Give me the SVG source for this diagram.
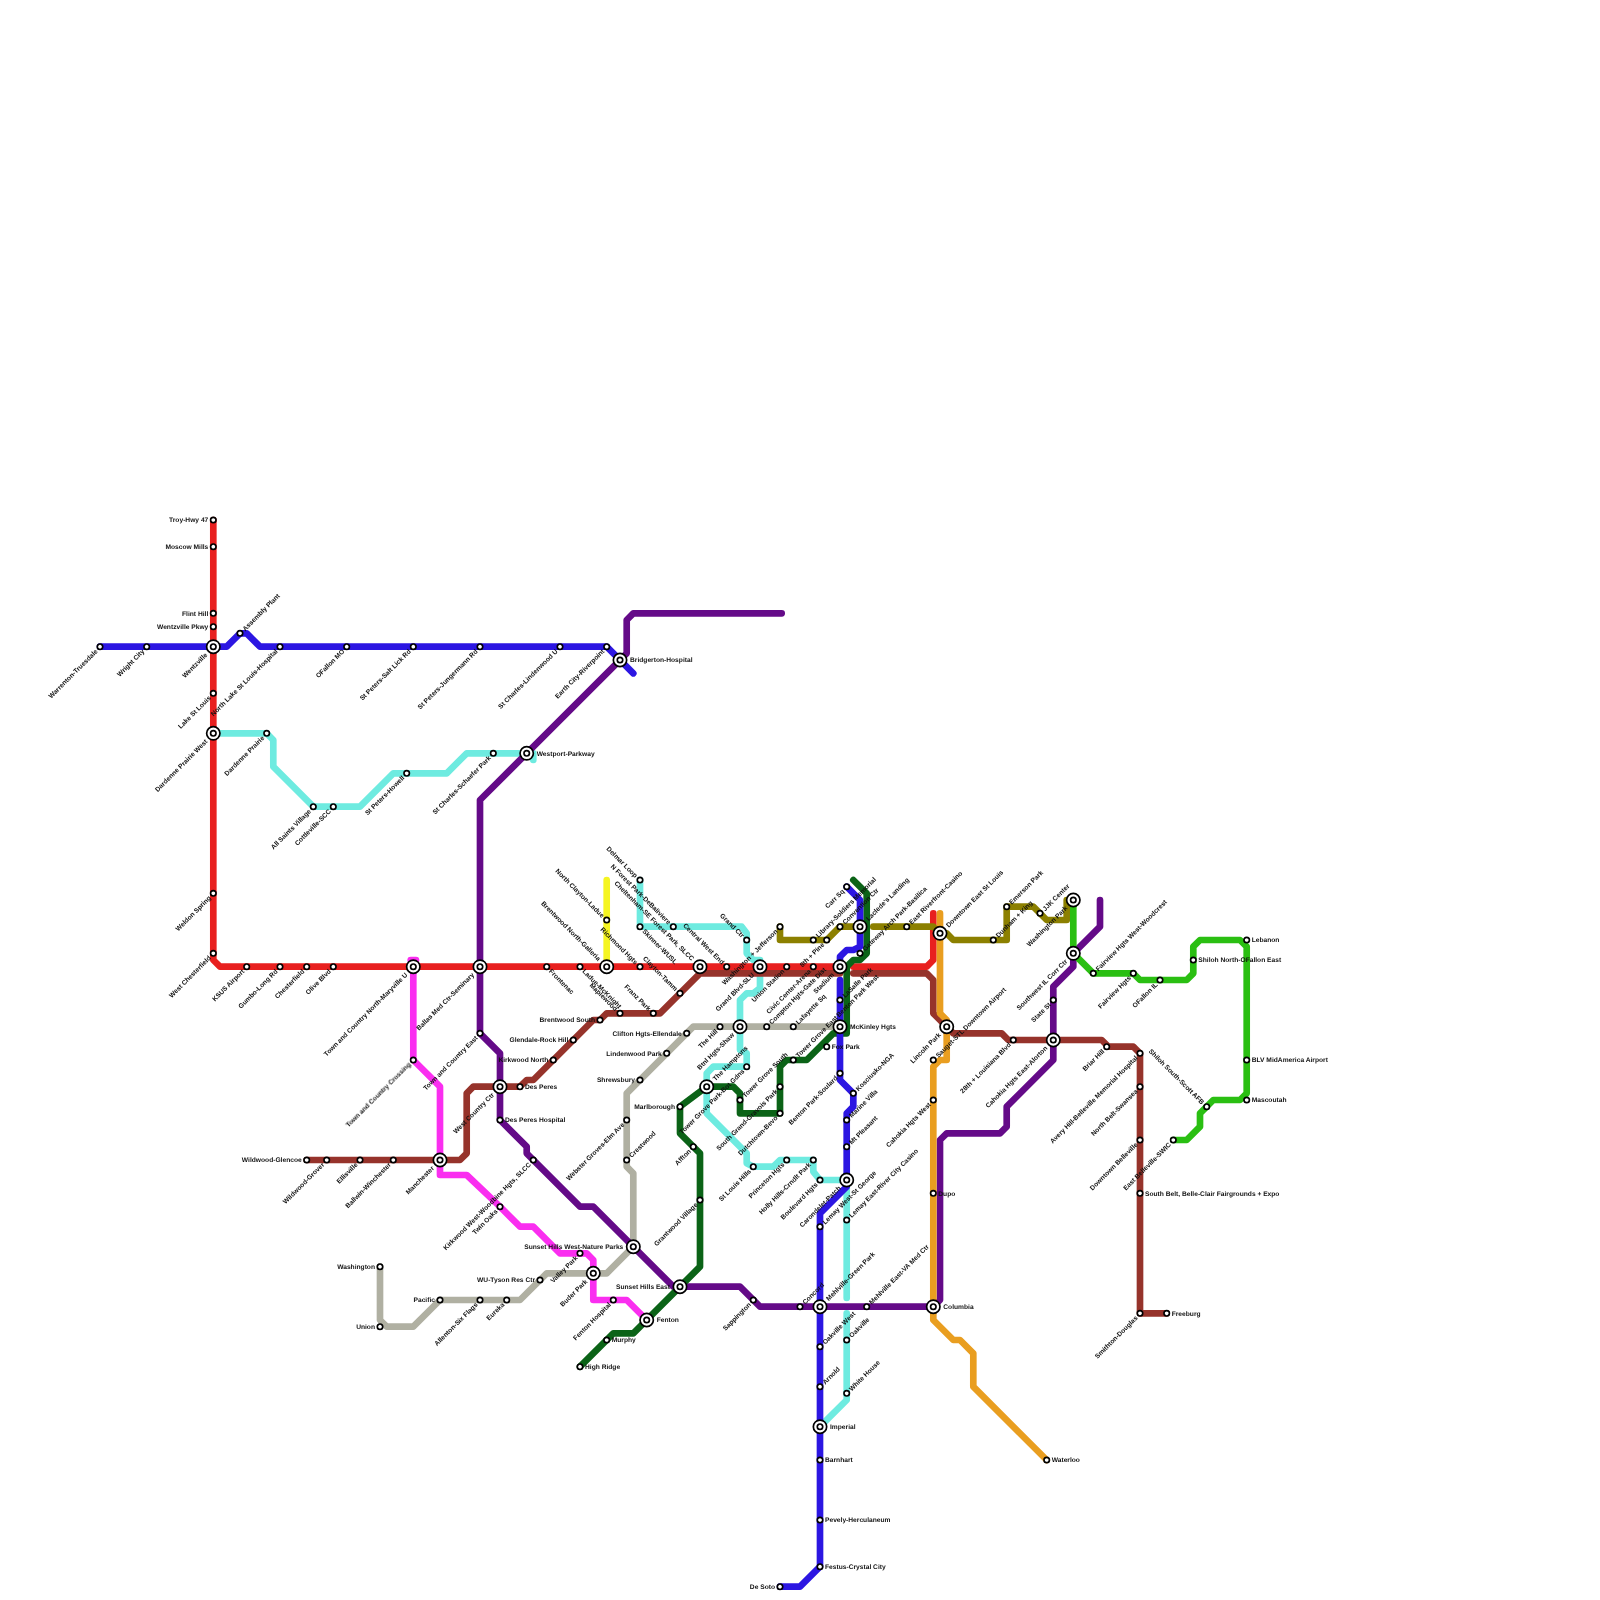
<svg xmlns="http://www.w3.org/2000/svg" width="1600" height="1600" viewBox="0 0 1600 1600">
<style>
text{font-family:"Liberation Sans",Arial,sans-serif;font-size:6.67px;font-weight:700;fill:#111;text-rendering:geometricPrecision}
.e{text-anchor:end}
#stations{opacity:.999}
#connectors path{fill:none;stroke-width:6.67;stroke-linecap:round;stroke-linejoin:round}
.red{stroke:#e8201f}.blue{stroke:#2c16e2}.purple{stroke:#640a88}.cyan{stroke:#6eebe0}.brown{stroke:#96332b}.olive{stroke:#8c8000}.gray{stroke:#b0b0a2}.magenta{stroke:#fa2ef0}.dgreen{stroke:#0b6317}.lgreen{stroke:#2abf12}.orange{stroke:#e99e20}.yellow{stroke:#f5f522}
.ring{fill:#fff;stroke:#000;stroke-width:1.7}
</style>
<defs>
<g id="stn"><circle class="ring" r="2.7"/></g>
<g id="hub"><circle class="ring" r="6.67"/><circle class="ring" r="2.7"/></g>
</defs>
<rect width="1600" height="1600" fill="#fff"/>
<g id="connectors">
<path class="cyan" d="M213.3,733.3H266.7L273.3,740V766.7L313.3,806.7H360L393.3,773.3H446.7L466.7,753.3H533.3V760"/>
<path class="cyan" d="M640,880V926.7H741.7L746.7,933.3V953.3L753.3,960H760V988L753.3,993.3H746.7L740,1000V1050L746.7,1053.3V1066.7H713.3L706.7,1073.3V1113.3L746.7,1153.3V1163.3L753.3,1166.7H773.3L780,1160H813.3V1171.7L820,1180H846.7V1298"/>
<path class="cyan" d="M846.7,1313.3V1400L820,1426.7"/>
<path class="yellow" d="M606.7,880V966.7"/>
<path class="gray" d="M380,1266.7V1320L386.7,1326.7H413.3L440,1300H520L546.7,1273.3H606.7L633.3,1246.7V1173.3L626.7,1166.7V1093.3L693.3,1026.7H840"/>
<path class="red" d="M213.3,520V960L220,966.7H840"/>
<path class="red" d="M853.3,966.7H926.7L933.3,960V913.3"/>
<path class="brown" d="M306.7,1160H460L466.7,1153.3V1093.3L473.3,1086.7H520L526.7,1080H533.3L593.3,1020H600L606.7,1013.3H660L700,973.3H840"/>
<path class="brown" d="M853.3,973.3H926.7L933.3,980V1013.3L953.3,1033.3H1001.7L1008.3,1040H1101.7L1108.3,1046.7H1133.3L1140,1053.3V1313.3H1166.7"/>
<path class="magenta" d="M410.7,960H416M413.3,960V1060L440,1086.7V1175H466.7L500,1206.7L520,1226.7H533.3L560,1253.3H586.7L593.3,1260V1300H626.7L646.7,1320"/>
<path class="purple" d="M781.7,613.3H633.3L626.7,620V653.3L480,800V1033.3L500,1053.3V1120L526.7,1146.7V1153.3L580,1206.7H593.3L673.3,1286.7H740L760,1306.7H933.3L940,1300V1140L946.7,1133.3H1000L1006.7,1126.7V1106.7L1053.3,1060V986.7L1073.3,966.7V953.3L1100,926.7V900"/>
<path class="dgreen" d="M853.3,880L866.7,893.3V953.3L860,960H853.3L846.7,966.7V1033.3H833.3L806.7,1060H786.7L780,1066.7V1113.3H740V1093.3L733.3,1086.7H706.7L680,1106.7V1133.3L700,1153.3V1266.7L633.3,1333.3H613.3L580,1366.7"/>
<path class="blue" d="M100,646.7H226.7L240,633.3H246.7L260,646.7H606.7L633.3,673.3"/>
<path class="blue" d="M780,1586.7H800L820,1566.7V1213.3L846.7,1186.7V1113.3L853.3,1106.7V1093.3L840,1080V980"/>
<path class="blue" d="M846.7,886.7L860,900V946.7L853.3,950H846.7L840,956.7V966.7"/>
<path class="olive" d="M780,926.7V940H826.7L840,926.7H860"/>
<path class="olive" d="M873.3,926.7H933.3L940,933.3L946.7,933.3L953.3,940H1006.7V906.7H1033.3L1046.7,920H1066.7V900H1073.3"/>
<path class="lgreen" d="M1073.3,900V953.3L1093.3,973.3H1133.3L1140,980H1186.7L1193.3,973.3V946.7L1200,940H1240L1246.7,946.7V1093.3L1240,1100H1213.3L1200,1113.3V1126.7L1186.7,1140H1173.3"/>
<path class="orange" d="M940,913.3V1013.3L946.7,1020V1060H940L933.3,1066.7V1320L953.3,1340H960L973.3,1353.3V1386.7L1046.7,1460"/>
</g>
<g id="stations">
<g id="troy-hwy-47" transform="translate(213.3 520)"><use href="#stn"/><text class="e" x="-5" y="2.3">Troy-Hwy 47</text></g>
<g id="moscow-mills" transform="translate(213.3 546.7)"><use href="#stn"/><text class="e" x="-5" y="2.3">Moscow Mills</text></g>
<g id="flint-hill" transform="translate(213.3 613.3)"><use href="#stn"/><text class="e" x="-5" y="2.3">Flint Hill</text></g>
<g id="wentzville-pkwy" transform="translate(213.3 626.7)"><use href="#stn"/><text class="e" x="-5" y="2.3">Wentzville Pkwy</text></g>
<g id="wentzville" transform="translate(213.3 646.7)"><use href="#hub"/><text class="e" x="-10" y="2.3" transform="rotate(-45)">Wentzville</text></g>
<g id="lake-st-louis" transform="translate(213.3 693.3)"><use href="#stn"/><text class="e" x="-5" y="2.3" transform="rotate(-45)">Lake St Louis</text></g>
<g id="dardenne-prairie-west" transform="translate(213.3 733.3)"><use href="#hub"/><text class="e" x="-10" y="2.3" transform="rotate(-45)">Dardenne Prairie West</text></g>
<g id="weldon-spring" transform="translate(213.3 893.3)"><use href="#stn"/><text class="e" x="-5" y="2.3" transform="rotate(-45)">Weldon Spring</text></g>
<g id="west-chesterfield" transform="translate(213.3 953.3)"><use href="#stn"/><text class="e" x="-5" y="2.3" transform="rotate(-45)">West Chesterfield</text></g>
<g id="ksus-airport" transform="translate(246.7 966.7)"><use href="#stn"/><text class="e" x="-5" y="2.3" transform="rotate(-45)">KSUS Airport</text></g>
<g id="gumbo-long-rd" transform="translate(280 966.7)"><use href="#stn"/><text class="e" x="-5" y="2.3" transform="rotate(-45)">Gumbo-Long Rd</text></g>
<g id="chesterfield" transform="translate(306.7 966.7)"><use href="#stn"/><text class="e" x="-5" y="2.3" transform="rotate(-45)">Chesterfield</text></g>
<g id="olive-blvd" transform="translate(333.3 966.7)"><use href="#stn"/><text class="e" x="-5" y="2.3" transform="rotate(-45)">Olive Blvd</text></g>
<g id="town-country-north" transform="translate(413.3 966.7)"><use href="#hub"/><text class="e" x="-10" y="2.3" transform="rotate(-45)">Town and Country North-Maryville U</text></g>
<g id="ballas-med-ctr" transform="translate(480 966.7)"><use href="#hub"/><text class="e" x="-10" y="2.3" transform="rotate(-45)">Ballas Med Ctr-Seminary</text></g>
<g id="frontenac" transform="translate(546.7 966.7)"><use href="#stn"/><text x="5" y="2.3" transform="rotate(45)">Frontenac</text></g>
<g id="ladue-mcknight" transform="translate(580 966.7)"><use href="#stn"/><text x="5" y="2.3" transform="rotate(45)">Ladue-McKnight</text></g>
<g id="brentwood-north" transform="translate(606.7 966.7)"><use href="#hub"/><text class="e" x="-10" y="2.3" transform="rotate(45)">Brentwood North-Galleria</text></g>
<g id="north-clayton" transform="translate(606.7 920)"><use href="#stn"/><text class="e" x="-5" y="2.3" transform="rotate(45)">North Clayton-Ladue</text></g>
<g id="richmond-hgts" transform="translate(640 966.7)"><use href="#stn"/><text class="e" x="-5" y="2.3" transform="rotate(45)">Richmond Hgts</text></g>
<g id="cheltenham" transform="translate(700 966.7)"><use href="#hub"/><text class="e" x="-10" y="2.3" transform="rotate(45)">Cheltenham-SE Forest Park, SLCC</text></g>
<g id="central-west-end" transform="translate(726.7 966.7)"><use href="#stn"/><text class="e" x="-5" y="2.3" transform="rotate(45)">Central West End</text></g>
<g id="grand-blvd" transform="translate(760 966.7)"><use href="#hub"/><text class="e" x="-10" y="2.3" transform="rotate(-45)">Grand Blvd-SLU</text></g>
<g id="union-station" transform="translate(786.7 966.7)"><use href="#stn"/><text class="e" x="-5" y="2.3" transform="rotate(-45)">Union Station</text></g>
<g id="civic-center" transform="translate(813.3 966.7)"><use href="#stn"/><text class="e" x="-5" y="2.3" transform="rotate(-45)">Civic Center-Arena</text></g>
<g id="stadium" transform="translate(840 966.7)"><use href="#hub"/><text class="e" x="-10" y="2.3" transform="rotate(-45)">Stadium</text></g>
<g id="delmar-loop" transform="translate(640 880)"><use href="#stn"/><text class="e" x="-5" y="2.3" transform="rotate(45)">Delmar Loop</text></g>
<g id="skinner" transform="translate(640 926.7)"><use href="#stn"/><text x="5" y="2.3" transform="rotate(45)">Skinner-WUSL</text></g>
<g id="n-forest-park" transform="translate(673.3 926.7)"><use href="#stn"/><text class="e" x="-5" y="2.3" transform="rotate(45)">N Forest Park-DeBaliviere</text></g>
<g id="grand-ctr" transform="translate(746.7 940)"><use href="#stn"/><text class="e" x="-5" y="2.3" transform="rotate(45)">Grand Ctr</text></g>
<g id="washington-jefferson" transform="translate(780 926.7)"><use href="#stn"/><text class="e" x="-5" y="2.3" transform="rotate(-45)">Washington + Jefferson</text></g>
<g id="library" transform="translate(813.3 940)"><use href="#stn"/><text x="5" y="2.3" transform="rotate(-45)">Library-Soldiers Memorial</text></g>
<g id="eighth-pine" transform="translate(826.7 940)"><use href="#stn"/><text class="e" x="-5" y="2.3" transform="rotate(-45)">8th + Pine</text></g>
<g id="convention-ctr" transform="translate(840 926.7)"><use href="#stn"/><text x="5" y="2.3" transform="rotate(-45)">Convention Ctr</text></g>
<g id="carr-sq" transform="translate(846.7 886.7)"><use href="#stn"/><text class="e" x="-5" y="2.3" transform="rotate(-45)">Carr Sq</text></g>
<g id="laclede" transform="translate(860 926.7)"><use href="#hub"/><text x="10" y="2.3" transform="rotate(-45)">Laclede's Landing</text></g>
<g id="gateway" transform="translate(860 953.3)"><use href="#stn"/><text x="5" y="2.3" transform="rotate(-45)">Gateway Arch Park-Basilica</text></g>
<g id="east-riverfront" transform="translate(906.7 926.7)"><use href="#stn"/><text x="5" y="2.3" transform="rotate(-45)">East Riverfront-Casino</text></g>
<g id="downtown-east" transform="translate(940 933.3)"><use href="#hub"/><text x="10" y="2.3" transform="rotate(-45)">Downtown East St Louis</text></g>
<g id="dunham-king" transform="translate(993.3 940)"><use href="#stn"/><text x="5" y="2.3" transform="rotate(-45)">Dunham + King</text></g>
<g id="emerson-park" transform="translate(1006.7 906.7)"><use href="#stn"/><text x="5" y="2.3" transform="rotate(-45)">Emerson Park</text></g>
<g id="jjk-center" transform="translate(1040 913.3)"><use href="#stn"/><text x="5" y="2.3" transform="rotate(-45)">JJK Center</text></g>
<g id="washington-park" transform="translate(1073.3 900)"><use href="#hub"/><text class="e" x="-10" y="2.3" transform="rotate(-45)">Washington Park</text></g>
<g id="sw-il-corr" transform="translate(1073.3 953.3)"><use href="#hub"/><text class="e" x="-10" y="2.3" transform="rotate(-45)">Southwest IL Corr Ctr</text></g>
<g id="fairview-west" transform="translate(1093.3 973.3)"><use href="#stn"/><text x="5" y="2.3" transform="rotate(-45)">Fairview Hgts West-Woodcrest</text></g>
<g id="fairview-hgts" transform="translate(1133.3 973.3)"><use href="#stn"/><text class="e" x="-5" y="2.3" transform="rotate(-45)">Fairview Hgts</text></g>
<g id="ofallon-il" transform="translate(1160 980)"><use href="#stn"/><text class="e" x="-5" y="2.3" transform="rotate(-45)">OFallon IL</text></g>
<g id="shiloh-north" transform="translate(1193.3 960)"><use href="#stn"/><text x="5" y="2.3">Shiloh North-OFallon East</text></g>
<g id="lebanon" transform="translate(1246.7 940)"><use href="#stn"/><text x="5" y="2.3">Lebanon</text></g>
<g id="blv" transform="translate(1246.7 1060)"><use href="#stn"/><text x="5" y="2.3">BLV MidAmerica Airport</text></g>
<g id="mascoutah" transform="translate(1246.7 1100)"><use href="#stn"/><text x="5" y="2.3">Mascoutah</text></g>
<g id="shiloh-south" transform="translate(1206.7 1106.7)"><use href="#stn"/><text class="e" x="-5" y="2.3" transform="rotate(45)">Shiloh South-Scott AFB</text></g>
<g id="east-belleville" transform="translate(1173.3 1140)"><use href="#stn"/><text class="e" x="-5" y="2.3" transform="rotate(-45)">East Belleville-SWIC</text></g>
<g id="briar-hill" transform="translate(1106.7 1046.7)"><use href="#stn"/><text class="e" x="-5" y="2.3" transform="rotate(-45)">Briar Hill</text></g>
<g id="avery-hill" transform="translate(1140 1053.3)"><use href="#stn"/><text class="e" x="-5" y="2.3" transform="rotate(-45)">Avery Hill-Belleville Memorial Hospital</text></g>
<g id="north-belt" transform="translate(1140 1086.7)"><use href="#stn"/><text class="e" x="-5" y="2.3" transform="rotate(-45)">North Belt-Swansea</text></g>
<g id="downtown-belleville" transform="translate(1140 1140)"><use href="#stn"/><text class="e" x="-5" y="2.3" transform="rotate(-45)">Downtown Belleville</text></g>
<g id="south-belt" transform="translate(1140 1193.3)"><use href="#stn"/><text x="5" y="2.3">South Belt, Belle-Clair Fairgrounds + Expo</text></g>
<g id="smithton" transform="translate(1140 1313.3)"><use href="#stn"/><text class="e" x="-5" y="2.3" transform="rotate(-45)">Smithton-Douglas</text></g>
<g id="freeburg" transform="translate(1166.7 1313.3)"><use href="#stn"/><text x="5" y="2.3">Freeburg</text></g>
<g id="lincoln-park" transform="translate(946.7 1026.7)"><use href="#hub"/><text class="e" x="-10" y="2.3" transform="rotate(-45)">Lincoln Park</text></g>
<g id="sauget" transform="translate(933.3 1060)"><use href="#stn"/><text x="5" y="2.3" transform="rotate(-45)">Sauget-STL Downtown Airport</text></g>
<g id="louisiana" transform="translate(1013.3 1040)"><use href="#stn"/><text class="e" x="-5" y="2.3" transform="rotate(-45)">28th + Louisiana Blvd</text></g>
<g id="cahokia-east" transform="translate(1053.3 1040)"><use href="#hub"/><text class="e" x="-10" y="2.3" transform="rotate(-45)">Cahokia Hgts East-Alorton</text></g>
<g id="state-st" transform="translate(1053.3 1000)"><use href="#stn"/><text class="e" x="-5" y="2.3" transform="rotate(-45)">State St</text></g>
<g id="cahokia-west" transform="translate(933.3 1100)"><use href="#stn"/><text class="e" x="-5" y="2.3" transform="rotate(-45)">Cahokia Hgts West</text></g>
<g id="dupo" transform="translate(933.3 1193.3)"><use href="#stn"/><text x="5" y="2.3">Dupo</text></g>
<g id="columbia" transform="translate(933.3 1306.7)"><use href="#hub"/><text x="10" y="2.3">Columbia</text></g>
<g id="waterloo" transform="translate(1046.7 1460)"><use href="#stn"/><text x="5" y="2.3">Waterloo</text></g>
<g id="mehlville-east" transform="translate(866.7 1306.7)"><use href="#stn"/><text x="5" y="2.3" transform="rotate(-45)">Mehlville East-VA Med Ctr</text></g>
<g id="mehlville-green" transform="translate(820 1306.7)"><use href="#hub"/><text x="10" y="2.3" transform="rotate(-45)">Mehlville-Green Park</text></g>
<g id="concord" transform="translate(800 1306.7)"><use href="#stn"/><text x="5" y="2.3" transform="rotate(-45)">Concord</text></g>
<g id="sappington" transform="translate(753.3 1300)"><use href="#stn"/><text class="e" x="-5" y="2.3" transform="rotate(-45)">Sappington</text></g>
<g id="oakville-west" transform="translate(820 1346.7)"><use href="#stn"/><text x="5" y="2.3" transform="rotate(-45)">Oakville West</text></g>
<g id="oakville" transform="translate(846.7 1340)"><use href="#stn"/><text x="5" y="2.3" transform="rotate(-45)">Oakville</text></g>
<g id="arnold" transform="translate(820 1386.7)"><use href="#stn"/><text x="5" y="2.3" transform="rotate(-45)">Arnold</text></g>
<g id="white-house" transform="translate(846.7 1393.3)"><use href="#stn"/><text x="5" y="2.3" transform="rotate(-45)">White House</text></g>
<g id="imperial" transform="translate(820 1426.7)"><use href="#hub"/><text x="10" y="2.3">Imperial</text></g>
<g id="barnhart" transform="translate(820 1460)"><use href="#stn"/><text x="5" y="2.3">Barnhart</text></g>
<g id="pevely" transform="translate(820 1520)"><use href="#stn"/><text x="5" y="2.3">Pevely-Herculaneum</text></g>
<g id="festus" transform="translate(820 1566.7)"><use href="#stn"/><text x="5" y="2.3">Festus-Crystal City</text></g>
<g id="de-soto" transform="translate(780 1586.7)"><use href="#stn"/><text class="e" x="-5" y="2.3">De Soto</text></g>
<g id="tower-grove-east" transform="translate(793.3 1060)"><use href="#stn"/><text x="5" y="2.3" transform="rotate(-45)">Tower Grove East</text></g>
<g id="fox-park" transform="translate(826.7 1046.7)"><use href="#stn"/><text x="5" y="2.3">Fox Park</text></g>
<g id="benton-park-west" transform="translate(833.8 1019.5)"><text x="5" y="2.3" transform="rotate(-45)">Benton Park West</text></g>
<g id="lasalle-park" transform="translate(840 1000)"><use href="#stn"/><text x="5" y="2.3" transform="rotate(-45)">LaSalle Park</text></g>
<g id="mckinley-hgts" transform="translate(840 1026.7)"><use href="#hub"/><text x="10" y="2.3">McKinley Hgts</text></g>
<g id="compton-hgts" transform="translate(766.7 1026.7)"><use href="#stn"/><text x="5" y="2.3" transform="rotate(-45)">Compton Hgts-Gate Dist</text></g>
<g id="lafayette-sq" transform="translate(793.3 1026.7)"><use href="#stn"/><text x="5" y="2.3" transform="rotate(-45)">Lafayette Sq</text></g>
<g id="the-hill" transform="translate(720 1026.7)"><use href="#stn"/><text class="e" x="-5" y="2.3" transform="rotate(-45)">The Hill</text></g>
<g id="btnl-hgts" transform="translate(740 1026.7)"><use href="#hub"/><text class="e" x="-10" y="2.3" transform="rotate(-45)">Btnl Hgts-Shaw</text></g>
<g id="clifton-hgts" transform="translate(686.7 1033.3)"><use href="#stn"/><text class="e" x="-5" y="2.3">Clifton Hgts-Ellendale</text></g>
<g id="lindenwood-park" transform="translate(666.7 1053.3)"><use href="#stn"/><text class="e" x="-5" y="2.3">Lindenwood Park</text></g>
<g id="shrewsbury" transform="translate(640 1080)"><use href="#stn"/><text class="e" x="-5" y="2.3">Shrewsbury</text></g>
<g id="marlborough" transform="translate(680 1106.7)"><use href="#stn"/><text class="e" x="-5" y="2.3">Marlborough</text></g>
<g id="the-hamptons" transform="translate(706.7 1086.7)"><use href="#hub"/><text x="10" y="2.3" transform="rotate(-45)">The Hamptons</text></g>
<g id="tower-grove-park" transform="translate(746.7 1066.7)"><use href="#stn"/><text class="e" x="-5" y="2.3" transform="rotate(-45)">Tower Grove Park-Bot Gdns</text></g>
<g id="tower-grove-south" transform="translate(740 1100)"><use href="#stn"/><text x="5" y="2.3" transform="rotate(-45)">Tower Grove South</text></g>
<g id="south-grand" transform="translate(780 1086.7)"><use href="#stn"/><text class="e" x="-5" y="2.3" transform="rotate(-45)">South Grand-Gravois Park</text></g>
<g id="dutchtown" transform="translate(780 1113.3)"><use href="#stn"/><text class="e" x="-5" y="2.3" transform="rotate(-45)">Dutchtown-Bevo</text></g>
<g id="benton-park-soulard" transform="translate(840 1073.3)"><use href="#stn"/><text class="e" x="-5" y="2.3" transform="rotate(-45)">Benton Park-Soulard</text></g>
<g id="kosciusko" transform="translate(853.3 1093.3)"><use href="#stn"/><text x="5" y="2.3" transform="rotate(-45)">Kosciusko-NGA</text></g>
<g id="marine-villa" transform="translate(846.7 1120)"><use href="#stn"/><text x="5" y="2.3" transform="rotate(-45)">Marine Villa</text></g>
<g id="mt-pleasant" transform="translate(846.7 1146.7)"><use href="#stn"/><text x="5" y="2.3" transform="rotate(-45)">Mt Pleasant</text></g>
<g id="holly-hills" transform="translate(813.3 1160)"><use href="#stn"/><text class="e" x="-5" y="2.3" transform="rotate(-45)">Holly Hills-Crndlt Park</text></g>
<g id="princeton-hgts" transform="translate(786.7 1160)"><use href="#stn"/><text class="e" x="-5" y="2.3" transform="rotate(-45)">Princeton Hgts</text></g>
<g id="st-louis-hills" transform="translate(753.3 1166.7)"><use href="#stn"/><text class="e" x="-5" y="2.3" transform="rotate(-45)">St Louis Hills</text></g>
<g id="boulevard-hgts" transform="translate(820 1180)"><use href="#stn"/><text class="e" x="-5" y="2.3" transform="rotate(-45)">Boulevard Hgts</text></g>
<g id="carondelet" transform="translate(846.7 1180)"><use href="#hub"/><text class="e" x="-10" y="2.3" transform="rotate(-45)">Carondelet-Patch</text></g>
<g id="lemay-west" transform="translate(820 1226.7)"><use href="#stn"/><text x="5" y="2.3" transform="rotate(-45)">Lemay West-St George</text></g>
<g id="lemay-east" transform="translate(846.7 1220)"><use href="#stn"/><text x="5" y="2.3" transform="rotate(-45)">Lemay East-River City Casino</text></g>
<g id="affton" transform="translate(693.3 1146.7)"><use href="#stn"/><text class="e" x="-5" y="2.3" transform="rotate(-45)">Affton</text></g>
<g id="grantwood" transform="translate(700 1200)"><use href="#stn"/><text class="e" x="-5" y="2.3" transform="rotate(-45)">Grantwood Village</text></g>
<g id="webster" transform="translate(626.7 1120)"><use href="#stn"/><text class="e" x="-5" y="2.3" transform="rotate(-45)">Webster Groves-Elm Ave</text></g>
<g id="crestwood" transform="translate(626.7 1160)"><use href="#stn"/><text x="5" y="2.3" transform="rotate(-45)">Crestwood</text></g>
<g id="kirkwood-west" transform="translate(533.3 1160)"><use href="#stn"/><text class="e" x="-5" y="2.3" transform="rotate(-45)">Kirkwood West-Woodbine Hgts, SLCC</text></g>
<g id="twin-oaks" transform="translate(500 1206.7)"><use href="#stn"/><text class="e" x="-5" y="2.3" transform="rotate(-45)">Twin Oaks</text></g>
<g id="des-peres" transform="translate(520 1086.7)"><use href="#stn"/><text x="5" y="2.3">Des Peres</text></g>
<g id="des-peres-hospital" transform="translate(500 1120)"><use href="#stn"/><text x="5" y="2.3">Des Peres Hospital</text></g>
<g id="west-country-ctr" transform="translate(500 1086.7)"><use href="#hub"/><text class="e" x="-10" y="2.3" transform="rotate(-45)">West Country Ctr</text></g>
<g id="town-country-east" transform="translate(480 1033.3)"><use href="#stn"/><text class="e" x="-5" y="2.3" transform="rotate(-45)">Town and Country East</text></g>
<g id="kirkwood-north" transform="translate(553.3 1060)"><use href="#stn"/><text class="e" x="-5" y="2.3">Kirkwood North</text></g>
<g id="glendale" transform="translate(573.3 1040)"><use href="#stn"/><text class="e" x="-5" y="2.3">Glendale-Rock Hill</text></g>
<g id="brentwood-south" transform="translate(600 1020)"><use href="#stn"/><text class="e" x="-5" y="2.3">Brentwood South</text></g>
<g id="maplewood" transform="translate(620 1013.3)"><use href="#stn"/><text class="e" x="-5" y="2.3" transform="rotate(45)">Maplewood</text></g>
<g id="franz-park" transform="translate(653.3 1013.3)"><use href="#stn"/><text class="e" x="-5" y="2.3" transform="rotate(45)">Franz Park</text></g>
<g id="clayton-tamm" transform="translate(680 993.3)"><use href="#stn"/><text class="e" x="-5" y="2.3" transform="rotate(45)">Clayton-Tamm</text></g>
<g id="wildwood-glencoe" transform="translate(306.7 1160)"><use href="#stn"/><text class="e" x="-5" y="2.3">Wildwood-Glencoe</text></g>
<g id="wildwood-grover" transform="translate(326.7 1160)"><use href="#stn"/><text class="e" x="-5" y="2.3" transform="rotate(-45)">Wildwood-Grover</text></g>
<g id="ellisville" transform="translate(360 1160)"><use href="#stn"/><text class="e" x="-5" y="2.3" transform="rotate(-45)">Ellisville</text></g>
<g id="ballwin" transform="translate(393.3 1160)"><use href="#stn"/><text class="e" x="-5" y="2.3" transform="rotate(-45)">Ballwin-Winchester</text></g>
<g id="manchester" transform="translate(440 1160)"><use href="#hub"/><text class="e" x="-10" y="2.3" transform="rotate(-45)">Manchester</text></g>
<g id="town-country-crossing" transform="translate(413.3 1060)"><use href="#stn"/><text class="e" x="-5" y="2.3" transform="rotate(-45)">Town and Country Crossing</text></g>
<g id="washington" transform="translate(380 1266.7)"><use href="#stn"/><text class="e" x="-5" y="2.3">Washington</text></g>
<g id="union" transform="translate(380 1326.7)"><use href="#stn"/><text class="e" x="-5" y="2.3">Union</text></g>
<g id="pacific" transform="translate(440 1300)"><use href="#stn"/><text class="e" x="-5" y="2.3">Pacific</text></g>
<g id="allenton" transform="translate(480 1300)"><use href="#stn"/><text class="e" x="-5" y="2.3" transform="rotate(-45)">Allenton-Six Flags</text></g>
<g id="eureka" transform="translate(506.7 1300)"><use href="#stn"/><text class="e" x="-5" y="2.3" transform="rotate(-45)">Eureka</text></g>
<g id="wu-tyson" transform="translate(540 1280)"><use href="#stn"/><text class="e" x="-5" y="2.3">WU-Tyson Res Ctr</text></g>
<g id="valley-park" transform="translate(580 1253.3)"><use href="#stn"/><text class="e" x="-5" y="2.3" transform="rotate(-45)">Valley Park</text></g>
<g id="buder-park" transform="translate(593.3 1273.3)"><use href="#hub"/><text class="e" x="-10" y="2.3" transform="rotate(-45)">Buder Park</text></g>
<g id="sunset-hills-west" transform="translate(633.3 1246.7)"><use href="#hub"/><text class="e" x="-10" y="2.3">Sunset Hills West-Nature Parks</text></g>
<g id="sunset-hills-east" transform="translate(680 1286.7)"><use href="#hub"/><text class="e" x="-10" y="2.3">Sunset Hills East</text></g>
<g id="fenton-hospital" transform="translate(613.3 1300)"><use href="#stn"/><text class="e" x="-5" y="2.3" transform="rotate(-45)">Fenton Hospital</text></g>
<g id="fenton" transform="translate(646.7 1320)"><use href="#hub"/><text x="10" y="2.3">Fenton</text></g>
<g id="murphy" transform="translate(606.7 1340)"><use href="#stn"/><text x="5" y="2.3">Murphy</text></g>
<g id="high-ridge" transform="translate(580 1366.7)"><use href="#stn"/><text x="5" y="2.3">High Ridge</text></g>
<g id="westport" transform="translate(526.7 753.3)"><use href="#hub"/><text x="10" y="2.3">Westport-Parkway</text></g>
<g id="bridgerton" transform="translate(620 660)"><use href="#hub"/><text x="10" y="2.3">Bridgerton-Hospital</text></g>
<g id="warrenton" transform="translate(100 646.7)"><use href="#stn"/><text class="e" x="-5" y="2.3" transform="rotate(-45)">Warrenton-Truesdale</text></g>
<g id="wright-city" transform="translate(146.7 646.7)"><use href="#stn"/><text class="e" x="-5" y="2.3" transform="rotate(-45)">Wright City</text></g>
<g id="assembly-plant" transform="translate(240 633.3)"><use href="#stn"/><text x="5" y="2.3" transform="rotate(-45)">Assembly Plant</text></g>
<g id="north-lake" transform="translate(280 646.7)"><use href="#stn"/><text class="e" x="-5" y="2.3" transform="rotate(-45)">North Lake St Louis-Hospital</text></g>
<g id="ofallon-mo" transform="translate(346.7 646.7)"><use href="#stn"/><text class="e" x="-5" y="2.3" transform="rotate(-45)">OFallon MO</text></g>
<g id="salt-lick" transform="translate(413.3 646.7)"><use href="#stn"/><text class="e" x="-5" y="2.3" transform="rotate(-45)">St Peters-Salt Lick Rd</text></g>
<g id="jungermann" transform="translate(480 646.7)"><use href="#stn"/><text class="e" x="-5" y="2.3" transform="rotate(-45)">St Peters-Jungermann Rd</text></g>
<g id="lindenwood-u" transform="translate(560 646.7)"><use href="#stn"/><text class="e" x="-5" y="2.3" transform="rotate(-45)">St Charles-Lindenwood U</text></g>
<g id="earth-city" transform="translate(606.7 646.7)"><use href="#stn"/><text class="e" x="-5" y="2.3" transform="rotate(-45)">Earth City-Riverpoint</text></g>
<g id="dardenne-prairie" transform="translate(266.7 733.3)"><use href="#stn"/><text class="e" x="-5" y="2.3" transform="rotate(-45)">Dardenne Prairie</text></g>
<g id="all-saints" transform="translate(313.3 806.7)"><use href="#stn"/><text class="e" x="-5" y="2.3" transform="rotate(-45)">All Saints Village</text></g>
<g id="cottleville" transform="translate(333.3 806.7)"><use href="#stn"/><text class="e" x="-5" y="2.3" transform="rotate(-45)">Cottleville-SCC</text></g>
<g id="howell" transform="translate(406.7 773.3)"><use href="#stn"/><text class="e" x="-5" y="2.3" transform="rotate(-45)">St Peters-Howell</text></g>
<g id="schaefer" transform="translate(493.3 753.3)"><use href="#stn"/><text class="e" x="-5" y="2.3" transform="rotate(-45)">St Charles-Schaefer Park</text></g>
</g>
</svg>
